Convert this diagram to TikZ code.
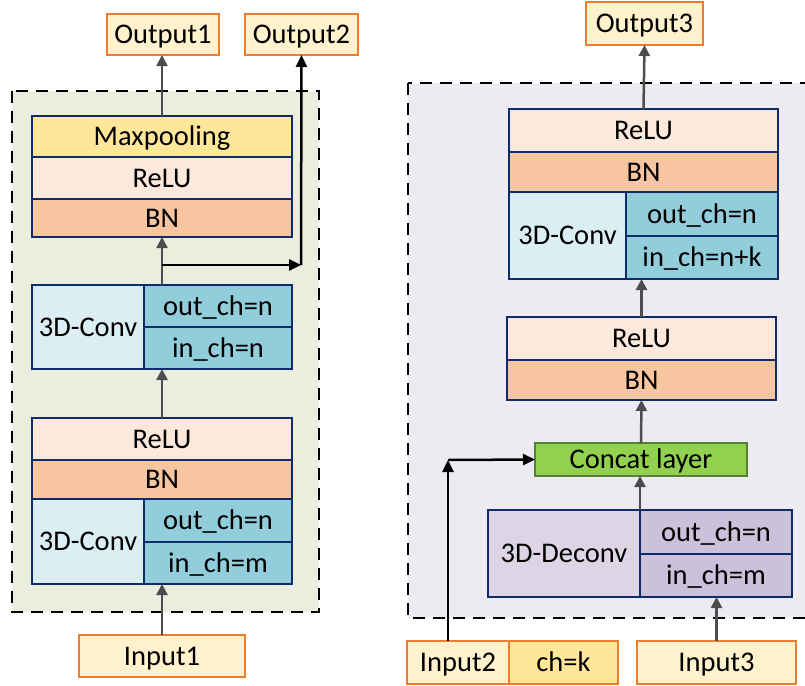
\documentclass[tikz,border=0pt]{standalone}
\usepackage{fontspec}
\setmainfont{Carlito}
\usetikzlibrary{arrows.meta}

\definecolor{navy}{HTML}{102B6A}
\definecolor{maxc}{HTML}{FFE699}
\definecolor{reluc}{HTML}{FCE9DC}
\definecolor{bnc}{HTML}{F7C59F}
\definecolor{convL}{HTML}{DAEEF3}
\definecolor{convR}{HTML}{92CDDC}
\definecolor{deconvL}{HTML}{DCD5E5}
\definecolor{deconvR}{HTML}{CCC1DA}
\definecolor{concatF}{HTML}{92D050}
\definecolor{concatD}{HTML}{548235}
\definecolor{cream}{HTML}{FFF2CC}
\definecolor{orangeB}{HTML}{ED7D31}
\definecolor{frameL}{HTML}{EBEEDF}
\definecolor{frameR}{HTML}{EDEAF2}
\definecolor{arrgray}{HTML}{4D4D4D}

\tikzset{
  base/.style={inner sep=0pt, outer sep=0pt, font=\fontsize{28.5}{32}\selectfont,
    text height=18.4pt, text depth=0pt},
  lay/.style={base, draw=navy, line width=1.8pt},
  io/.style={base, draw=orangeB, fill=cream, line width=2.2pt},
  framebox/.style={draw=black, line width=2.4pt, dash pattern=on 12pt off 8pt},
  garrow/.style={draw=arrgray, line width=2.5pt, -{Triangle[length=11pt,width=11pt]}},
  karrow/.style={draw=black, line width=2.5pt, -{Triangle[length=12pt,width=11pt]}},
}

% \layer{name}{x1}{y1}{x2}{y2}{style}{text}
\newcommand\layer[7]{%
  \node[#6, minimum width={(#4)-(#2)}, minimum height={(#5)-(#3)}]
    (#1) at ({((#2)+(#4))/2},{((#3)+(#5))/2}) {#7};}

\begin{document}
\begin{tikzpicture}[x=1pt,y=-1pt]
\clip (0,0) rectangle (805,685);
\fill[white] (0,0) rectangle (805,685);

% dashed groups
\draw[framebox, fill=frameL] (12,91) rectangle (319,612);
\draw[framebox, fill=frameR] (408,83) rectangle (815,618);

% ---- left encoder stage ----
\layer{out1}{107}{14}{219}{55}{io}{Output1}
\layer{out2}{245}{14}{358}{55}{io}{Output2}

\layer{mp}{32}{116}{292}{157}{lay,fill=maxc}{Maxpooling}
\layer{relu1}{32}{157}{292}{199}{lay,fill=reluc}{ReLU}
\layer{bn1}{32}{199}{292}{237}{lay,fill=bnc}{BN}

\layer{convA}{32}{285}{292}{369}{lay}{}
\layer{convAl}{32}{285}{144}{369}{lay,fill=convL}{3D-Conv}
\layer{convAo}{144}{285}{292}{327}{lay,fill=convR}{out\_ch=n}
\layer{convAi}{144}{327}{292}{369}{lay,fill=convR}{in\_ch=n}

\layer{relu2}{32}{418}{292}{460}{lay,fill=reluc}{ReLU}
\layer{bn2}{32}{460}{292}{499}{lay,fill=bnc}{BN}
\layer{convB}{32}{499}{292}{584}{lay}{}
\layer{convBl}{32}{499}{144}{584}{lay,fill=convL}{3D-Conv}
\layer{convBo}{144}{499}{292}{542}{lay,fill=convR}{out\_ch=n}
\layer{convBi}{144}{542}{292}{584}{lay,fill=convR}{in\_ch=m}

\layer{in1}{79}{635}{245}{677}{io}{Input1}

% ---- right decoder stage ----
\layer{out3}{586}{2}{703}{45}{io}{Output3}

\layer{relu3}{509}{109}{778}{152}{lay,fill=reluc}{ReLU}
\layer{bn3}{509}{152}{778}{192}{lay,fill=bnc}{BN}
\layer{convC}{509}{192}{778}{279}{lay}{}
\layer{convCl}{509}{192}{626}{279}{lay,fill=convL}{3D-Conv}
\layer{convCo}{626}{192}{778}{236}{lay,fill=convR}{out\_ch=n}
\layer{convCi}{626}{236}{778}{279}{lay,fill=convR}{in\_ch=n+k}

\layer{relu4}{507}{317}{776}{360}{lay,fill=reluc}{ReLU}
\layer{bn4}{507}{360}{776}{400}{lay,fill=bnc}{BN}

\layer{concat}{535}{443}{747}{476}{base,draw=concatD,line width=1.8pt,fill=concatF}{Concat layer}

\layer{deconv}{488}{510}{792}{597}{lay}{}
\layer{deconvl}{488}{510}{640}{597}{lay,fill=deconvL}{3D-Deconv}
\layer{deconvo}{640}{510}{792}{554}{lay,fill=deconvR}{out\_ch=n}
\layer{deconvi}{640}{554}{792}{597}{lay,fill=deconvR}{in\_ch=m}

\layer{in2}{407}{641}{509}{684}{io}{Input2}
\layer{chk}{509}{641}{618}{684}{io,fill=maxc}{ch=k}
\layer{in3}{637}{641}{796}{684}{io}{Input3}

% ---- connectors ----
\coordinate (brA) at (162,265);
\coordinate (crA) at (301,265);
\coordinate (crB) at (448,460);

\draw[garrow] (in1.north) -- (convB.south);
\draw[garrow] (relu2.north) -- (convA.south);
\draw[garrow] (convA.north) -- (bn1.south);
\draw[garrow] (mp.north) -- (mp.north |- out1.south);
\draw[karrow] (brA) -- (crA);
\draw[karrow] (crA) -- (out2.south);

\draw[garrow] (in3.north) -- (in3.north |- deconv.south);
\draw[garrow] (deconv.north) -- (deconv.north |- concat.south);
\draw[garrow] (concat.north) -- (bn4.south);
\draw[garrow] (relu4.north) -- (relu4.north |- convC.south);
\draw[garrow] (relu3.north) -- (out3.south);
\draw[karrow] (in2.north -| crB) -- (crB);
\draw[karrow] (crB) -- (concat.west);
\end{tikzpicture}
\end{document}
